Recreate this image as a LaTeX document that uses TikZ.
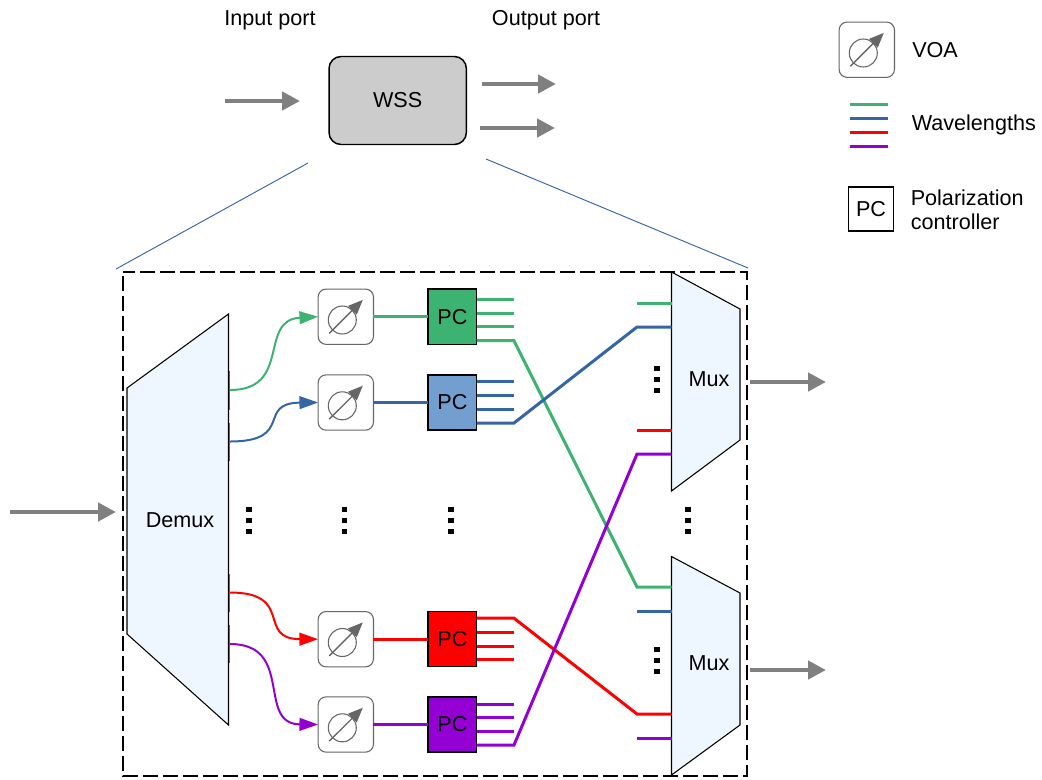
\documentclass[tikz,border=0pt]{standalone}
\usepackage{fontspec}
\setmainfont{Liberation Sans}
\usetikzlibrary{arrows.meta,calc}
\definecolor{lamG}{RGB}{60,179,113}
\definecolor{lamB}{RGB}{52,101,164}
\definecolor{lamR}{RGB}{255,0,0}
\definecolor{lamP}{RGB}{148,0,211}
\definecolor{pcB}{RGB}{114,159,207}
\definecolor{muxfill}{RGB}{238,246,255}
\definecolor{voaedge}{RGB}{102,102,102}
\tikzset{
  lbl/.style={inner sep=0pt,font=\fontsize{16.2}{19}\selectfont,align=left},
  wssbox/.style={draw=black,line width=1.1pt,rounded corners=9pt,fill=black!20,minimum width=103pt,minimum height=66pt,outer sep=0pt,lbl},
  voabox/.style={draw=voaedge,line width=0.8pt,rounded corners=6pt,fill=white,minimum width=41.5pt,minimum height=41.5pt,outer sep=0pt},
  pcbox/.style={draw=black,line width=1.1pt,minimum width=36.4pt,minimum height=41.3pt,outer sep=0pt,lbl},
  muxshape/.style={draw=black,line width=0.8pt,fill=muxfill},
  bigarrow/.style={draw=black!50,line width=3.6pt,-{Triangle[length=13.5pt,width=13.5pt]}},
  curveline/.style={line width=1.5pt,-{Triangle[length=14pt,width=9.5pt]}},
  lamline/.style={line width=2.25pt},
  dotcol/.style={line width=4pt,dash pattern=on 4pt off 4.2pt},
  zoomline/.style={draw=lamB,line width=0.7pt}
}
% attenuator sign, drawn over a VOA box
\newcommand{\voasym}[1]{%
  \draw [voaedge,line width=0.8pt] ($(#1)+(-3.5,3.3)$) circle (14);
  \draw [voaedge,line width=1pt,-{Triangle[length=11pt,width=9pt]}] ($(#1)+(-16.5,16.6)$) -- ($(#1)+(17,-16.8)$);
}
\begin{document}
\begin{tikzpicture}[x=0.75pt,y=0.75pt,yscale=-1,xscale=1]
\useasboundingbox (0,0) rectangle (1042,779);

% WSS on top
\node [wssbox] (wss) at (397.7,100.5) {WSS};
\node [lbl] (inlabel) at (270,20) {Input port};
\node [lbl] (outlabel) at (546,20) {Output port};
\coordinate (wssin) at (225,101);
\coordinate (wssout1s) at (482,84);
\coordinate (wssout1e) at (556,84);
\coordinate (wssout2s) at (480,128);
\coordinate (wssout2e) at (555,128);
\draw [bigarrow] (wssin) -- (300,101);
\draw [bigarrow] (wssout1s) -- (wssout1e);
\draw [bigarrow] (wssout2s) -- (wssout2e);

% Zoom lines
\draw [zoomline] (308,163) -- (116,269);
\draw [zoomline] (486,159) -- (748,268);

% Dashed frame
\draw [line width=1.5pt,dash pattern=on 11.25pt off 3.75pt,dash phase=-3pt] (123,272) rectangle (747,776);

% Demux
\draw [muxshape] (127,388) -- (228.5,314) -- (228.5,725) -- (127,634) -- cycle;
\node [lbl] (demux) at (180,520) {Demux};
\draw [lamB,line width=1.2pt] (229.3,371) -- (229.3,410);
\draw [lamB,line width=1.2pt] (229.3,423) -- (229.3,461);
\draw [lamB,line width=1.2pt] (229.3,574) -- (229.3,612);
\draw [lamB,line width=1.2pt] (229.3,625) -- (229.3,663);
\coordinate (portG) at (230,390);
\coordinate (portB) at (230,441.5);
\coordinate (portR) at (230,592.5);
\coordinate (portP) at (230,644);

% Mux
\draw [muxshape] (671.5,272) -- (740,309) -- (740,440) -- (671.5,491) -- cycle;
\draw [muxshape] (671.5,556.5) -- (740,593) -- (740,725) -- (671.5,775) -- cycle;
\node [lbl] (muxtop) at (709,379) {Mux};
\node [lbl] (muxbot) at (709,663) {Mux};

% VOA
\node [voabox] (voaG) at (345.8,316.7) {};
\node [voabox] (voaB) at (345.8,402.5) {};
\node [voabox] (voaR) at (345.8,639.2) {};
\node [voabox] (voaP) at (345.8,724.5) {};
\voasym{voaG}
\voasym{voaB}
\voasym{voaR}
\voasym{voaP}

% PC
\node [pcbox,fill=lamG] (pcG) at (452.4,316.7) {PC};
\node [pcbox,fill=pcB] (pcbl) at (452.4,402.5) {PC};
\node [pcbox,fill=lamR] (pcR) at (452.4,639.2) {PC};
\node [pcbox,fill=lamP] (pcP) at (452.4,724.5) {PC};

% Demux to VOA
\draw [curveline,lamG] (portG) .. controls (292,390) and (258,320) .. (voaG.west);
\draw [curveline,lamB] (portB) .. controls (295,441.5) and (256,403) .. (voaB.west);
\draw [curveline,lamR] (portR) .. controls (295,592.5) and (256,639) .. (voaR.west);
\draw [curveline,lamP] (portP) .. controls (295,644) and (256,724) .. (voaP.west);

% VOA to PC
\draw [lamline,lamG] (voaG) -- (pcG);
\draw [lamline,lamB] (voaB) -- (pcbl);
\draw [lamline,lamR] (voaR) -- (pcR);
\draw [lamline,lamP] (voaP) -- (pcP);

% PC outputs
\draw [lamline,lamG] ($(pcG.east)+(0,-17.3)$) -- +(37,0);
\draw [lamline,lamG] ($(pcG.east)+(0,-3.5)$) -- +(37,0);
\draw [lamline,lamG] ($(pcG.east)+(0,10.2)$) -- +(37,0);
\draw [lamline,lamB] ($(pcbl.east)+(0,-20.8)$) -- +(37,0);
\draw [lamline,lamB] ($(pcbl.east)+(0,-6.8)$) -- +(37,0);
\draw [lamline,lamB] ($(pcbl.east)+(0,6.8)$) -- +(37,0);
\draw [lamline,lamR] ($(pcR.east)+(0,-7)$) -- +(37,0);
\draw [lamline,lamR] ($(pcR.east)+(0,7)$) -- +(37,0);
\draw [lamline,lamR] ($(pcR.east)+(0,20)$) -- +(37,0);
\draw [lamline,lamP] ($(pcP.east)+(0,-20.5)$) -- +(37,0);
\draw [lamline,lamP] ($(pcP.east)+(0,-7)$) -- +(37,0);
\draw [lamline,lamP] ($(pcP.east)+(0,7)$) -- +(37,0);

% Crossing lines
\draw [lamline,lamG] ($(pcG.east)+(0,24)$) -- (514,340.7) -- (637,587) -- (671.5,587);
\draw [lamline,lamB] ($(pcbl.east)+(0,20.5)$) -- (514,423) -- (637,327) -- (671.5,327);
\draw [lamline,lamR] ($(pcR.east)+(0,-21)$) -- (514,618.2) -- (637,714) -- (671.5,714);
\draw [lamline,lamP] ($(pcP.east)+(0,20.5)$) -- (514,745) -- (637,454) -- (671.5,454);

% Mux stubs
\draw [lamline,lamG] (637,303) -- (671.5,303);
\draw [lamline,lamR] (637,430) -- (671.5,430);
\draw [lamline,lamB] (637,611) -- (671.5,611);
\draw [lamline,lamP] (637,738) -- (671.5,738);

% Outer arrows
\coordinate (demuxin) at (10,512);
\draw [bigarrow] (demuxin) -- (116,512);
\coordinate (muxtopout) at (750,382);
\coordinate (muxbotout) at (750,670);
\draw [bigarrow] (muxtopout) -- (826,382);
\draw [bigarrow] (muxbotout) -- (826,670);

% Dots
\draw [dotcol] (249,507) -- (249,534);
\draw [dotcol] (344.5,507) -- (344.5,534);
\draw [dotcol] (451,507) -- (451,534);
\draw [dotcol] (688,507) -- (688,534);
\draw [dotcol] (657,366) -- (657,393);
\draw [dotcol] (657,647) -- (657,675);

% Legend
\node [voabox] (voaleg) at (866.8,49.7) {};
\voasym{voaleg}
\node [lbl,anchor=west] (voatext) at (912,50) {VOA};
\draw [lamline,lamG] (849.5,104) -- (887.5,104);
\draw [lamline,lamB] (849.5,118) -- (887.5,118);
\draw [lamline,lamR] (849.5,132) -- (887.5,132);
\draw [lamline,lamP] (849.5,146) -- (887.5,146);
\node [lbl,anchor=west] (wavetext) at (911.5,125) {Wavelengths};
\node [pcbox,minimum width=33.5pt,minimum height=33pt] (pcleg) at (871,209) {PC};
\node [lbl,anchor=west] (pctext) at (910.5,210) {Polarization\\[-1pt]controller};

\end{tikzpicture}
\end{document}
